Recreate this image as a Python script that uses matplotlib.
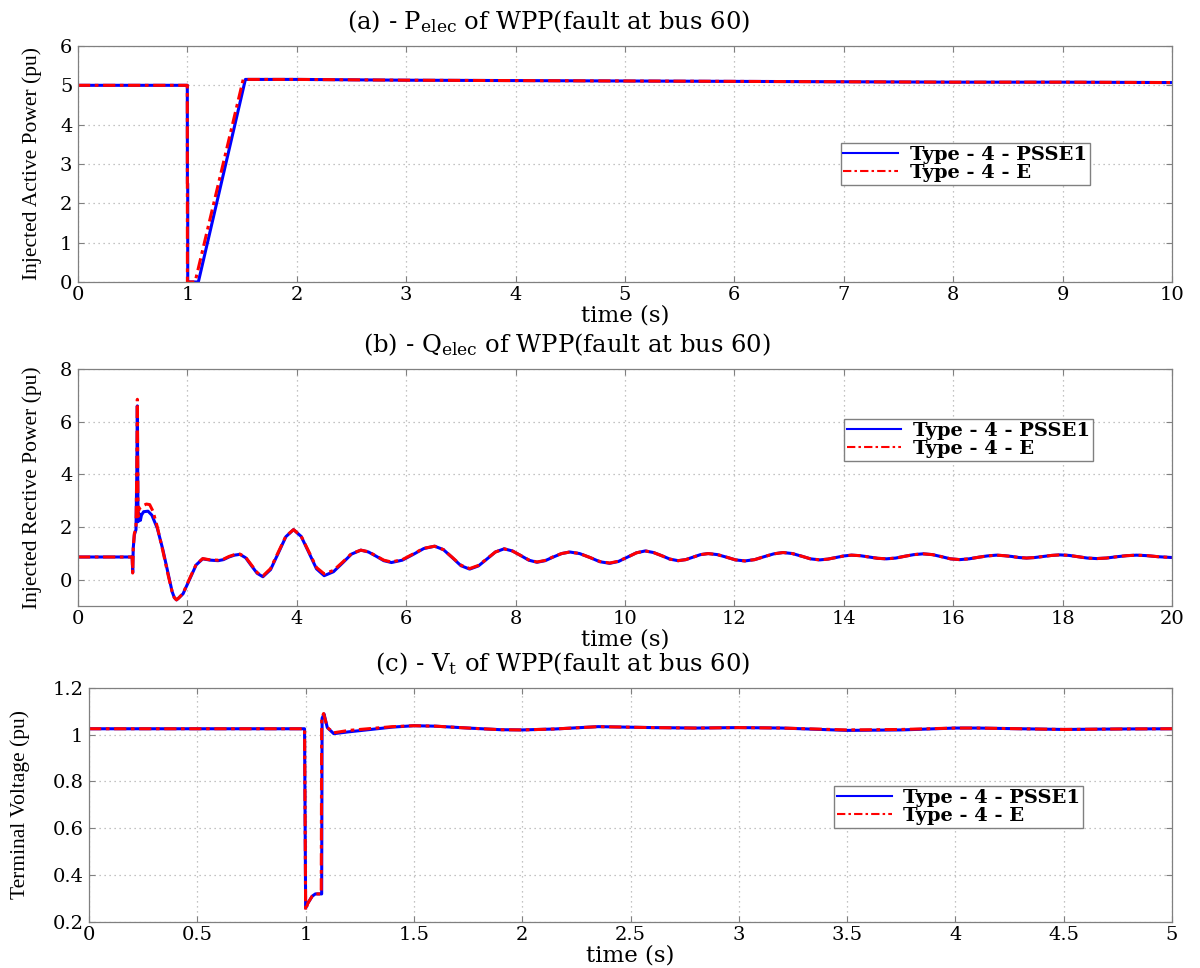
import matplotlib
matplotlib.use("Agg")
import matplotlib.pyplot as plt
from matplotlib.ticker import FuncFormatter

# ---------------- data ----------------
# (a) injected active power
ta_blue = [0, 0.999, 1.0, 1.003, 1.003, 1.10, 1.53, 2.0, 3.0, 4.0, 5.0, 6.0, 7.0, 8.0, 9.0, 10.0]
pa_blue = [5.0, 5.0, 2.5, 2.5, 0.0, 0.0, 5.15, 5.15, 5.13, 5.12, 5.11, 5.10, 5.09, 5.08, 5.08, 5.07]
ta_red = [0, 0.999, 1.0, 1.07, 1.51, 2.0, 3.0, 4.0, 5.0, 6.0, 7.0, 8.0, 9.0, 10.0]
pa_red = [5.0, 5.0, 0.0, 0.0, 5.15, 5.15, 5.13, 5.12, 5.11, 5.10, 5.09, 5.08, 5.08, 5.07]

# (b) injected reactive power: fault transient (differs between models) ...
tb_head_blue = [0, 0.99, 1.0, 1.01, 1.03, 1.06, 1.075, 1.085, 1.095, 1.10, 1.12, 1.14, 1.16, 1.2,
                1.28, 1.35, 1.45, 1.55, 1.65, 1.72, 1.76]
qb_head_blue = [0.86, 0.86, 0.27, 1.2, 1.7, 1.9, 4.0, 6.6, 3.0, 2.2, 2.5, 2.25, 2.45, 2.58,
                2.6, 2.45, 1.95, 1.15, 0.2, -0.45, -0.68]
tb_head_red = [0, 0.99, 1.0, 1.01, 1.03, 1.06, 1.075, 1.085, 1.095, 1.10, 1.12, 1.16, 1.2, 1.25,
               1.31, 1.37, 1.45, 1.55, 1.65, 1.72, 1.76]
qb_head_red = [0.86, 0.86, 0.25, 1.2, 1.75, 1.95, 4.3, 6.85, 3.2, 2.4, 2.7, 2.75, 2.82, 2.87,
               2.85, 2.6, 2.0, 1.1, 0.15, -0.45, -0.68]
# ... followed by the electromechanical oscillation
tb_tail = [1.8, 1.84, 1.92, 2.04, 2.16, 2.28, 2.42, 2.56, 2.66, 2.76, 2.86, 2.96,
           3.065, 3.17, 3.275, 3.38, 3.52, 3.66, 3.80, 3.94, 4.08, 4.22, 4.36, 4.5,
           4.67, 4.84, 5.0, 5.17, 5.31, 5.45, 5.59, 5.73, 5.93, 6.13, 6.32, 6.52,
           6.68, 6.84, 7.0, 7.16, 7.32, 7.48, 7.63, 7.79, 7.94, 8.09, 8.24, 8.39,
           8.54, 8.69, 8.84, 8.99, 9.17, 9.36, 9.54, 9.72, 9.88, 10.05, 10.21, 10.37,
           10.52, 10.67, 10.82, 10.97, 11.11, 11.25, 11.38, 11.52, 11.69, 11.86, 12.02, 12.19,
           12.37, 12.54, 12.72, 12.89, 13.06, 13.23, 13.39, 13.56, 13.71, 13.85, 14.0, 14.14,
           14.3, 14.46, 14.62, 14.78, 14.95, 15.12, 15.28, 15.45, 15.62, 15.79, 15.95, 16.12,
           16.29, 16.46, 16.62, 16.79, 16.93, 17.07, 17.2, 17.34, 17.49, 17.65, 17.8, 17.95,
           18.12, 18.29, 18.45, 18.62, 18.8, 18.99, 19.17, 19.35, 19.55, 19.75, 20.0]
qb_tail_blue = [-0.77, -0.7, -0.54, 0.01, 0.56, 0.79, 0.74, 0.72, 0.76, 0.86, 0.93, 0.96,
                0.83, 0.53, 0.24, 0.11, 0.38, 1.0, 1.63, 1.9, 1.64, 1.03, 0.41, 0.15,
                0.30, 0.64, 0.97, 1.12, 1.05, 0.89, 0.72, 0.65, 0.74, 0.96, 1.18, 1.27,
                1.14, 0.84, 0.53, 0.40, 0.52, 0.79, 1.05, 1.17, 1.09, 0.92, 0.74, 0.66,
                0.72, 0.86, 0.99, 1.05, 0.99, 0.84, 0.68, 0.62, 0.69, 0.86, 1.02, 1.09,
                1.03, 0.91, 0.78, 0.72, 0.76, 0.86, 0.95, 0.99, 0.95, 0.85, 0.75, 0.71,
                0.76, 0.87, 0.98, 1.03, 0.99, 0.89, 0.79, 0.75, 0.78, 0.84, 0.90, 0.93,
                0.91, 0.86, 0.81, 0.79, 0.82, 0.89, 0.95, 0.98, 0.95, 0.87, 0.79, 0.76,
                0.79, 0.85, 0.90, 0.93, 0.91, 0.88, 0.84, 0.82, 0.84, 0.88, 0.92, 0.94,
                0.92, 0.87, 0.82, 0.80, 0.82, 0.87, 0.91, 0.93, 0.91, 0.87, 0.84]
qb_tail_red = [-0.77, -0.7, -0.52, 0.04, 0.58, 0.80, 0.75, 0.74, 0.78, 0.88, 0.95, 0.97,
               0.85, 0.56, 0.27, 0.14, 0.42, 1.04, 1.65, 1.9, 1.65, 1.06, 0.46, 0.22,
               0.35, 0.67, 0.99, 1.12, 1.06, 0.90, 0.74, 0.67, 0.76, 0.98, 1.19, 1.27,
               1.14, 0.85, 0.55, 0.42, 0.54, 0.80, 1.05, 1.17, 1.09, 0.92, 0.75, 0.67,
               0.73, 0.87, 0.99, 1.05, 0.99, 0.84, 0.69, 0.63, 0.70, 0.86, 1.02, 1.09,
               1.03, 0.91, 0.78, 0.72, 0.76, 0.86, 0.95, 0.99, 0.95, 0.85, 0.75, 0.71,
               0.76, 0.87, 0.98, 1.03, 0.99, 0.89, 0.79, 0.75, 0.78, 0.84, 0.90, 0.93,
               0.91, 0.86, 0.81, 0.79, 0.82, 0.89, 0.95, 0.98, 0.95, 0.87, 0.79, 0.76,
               0.79, 0.85, 0.90, 0.93, 0.91, 0.88, 0.84, 0.82, 0.84, 0.88, 0.92, 0.94,
               0.92, 0.87, 0.82, 0.80, 0.82, 0.87, 0.91, 0.93, 0.91, 0.87, 0.84]

# (c) terminal voltage
tc_blue = [0, 0.995, 1.0, 1.01, 1.03, 1.045, 1.074, 1.076, 1.085, 1.1, 1.13, 1.2, 1.3, 1.4,
           1.5, 1.6, 1.75, 1.9, 2.0, 2.15, 2.35, 2.6, 2.8, 3.0, 3.2, 3.5, 3.75, 4.0, 4.1,
           4.3, 4.5, 4.75, 5.0]
vc_blue = [1.025, 1.025, 0.26, 0.28, 0.31, 0.32, 0.32, 1.07, 1.088, 1.03, 1.004, 1.012,
           1.022, 1.032, 1.038, 1.036, 1.028, 1.021, 1.02, 1.024, 1.034, 1.03, 1.028, 1.03,
           1.028, 1.018, 1.02, 1.028, 1.028, 1.025, 1.022, 1.024, 1.025]
tc_red = [0, 0.995, 1.0, 1.01, 1.03, 1.045, 1.072, 1.074, 1.083, 1.1, 1.13, 1.2, 1.3, 1.4,
          1.5, 1.6, 1.75, 1.9, 2.0, 2.15, 2.35, 2.6, 2.8, 3.0, 3.2, 3.5, 3.75, 4.0, 4.1,
          4.3, 4.5, 4.75, 5.0]
vc_red = [1.025, 1.025, 0.25, 0.28, 0.31, 0.32, 0.32, 1.07, 1.09, 1.03, 1.008, 1.018,
          1.026, 1.034, 1.038, 1.036, 1.028, 1.021, 1.02, 1.024, 1.034, 1.03, 1.028, 1.03,
          1.028, 1.02, 1.022, 1.028, 1.028, 1.025, 1.022, 1.024, 1.025]

legend_labels = ["Type - 4 - PSSE1", "Type - 4 - E"]

titles = [r"(a) - P$_{\mathrm{elec}}$ of WPP(fault at bus 60)",
          r"(b) - Q$_{\mathrm{elec}}$ of WPP(fault at bus 60)",
          r"(c) - V$_{\mathrm{t}}$ of WPP(fault at bus 60)"]
ylabels = ["Injected Active Power (pu)", "Injected Rective Power (pu)", "Terminal Voltage (pu)"]
xlabel = "time (s)"

xlims = [(0, 10), (0, 20), (0, 5)]
ylims = [(0, 6), (-1, 8), (0.2, 1.2)]
xticks = [list(range(0, 11)), list(range(0, 21, 2)), [0, 0.5, 1, 1.5, 2, 2.5, 3, 3.5, 4, 4.5, 5]]
yticks = [list(range(0, 7)), [0, 2, 4, 6, 8], [0.2, 0.4, 0.6, 0.8, 1.0, 1.2]]

# ---------------- plotting ----------------
plt.rcParams['mathtext.fontset'] = 'dejavuserif'
SERIF = ['DejaVu Serif']

fig = plt.figure(figsize=(12, 9.68), dpi=100)
positions = [
    [0.065, 0.7087, 0.9117, 0.2438],
    [0.065, 0.374, 0.9117, 0.2448],
    [0.0742, 0.0475, 0.9025, 0.2420],
]
legend_anchor = [(0.697, 0.59), (0.70, 0.79), (0.688, 0.58)]
title_x = [0.43, 0.447, 0.437]
ylabel_pad = [13, 13, 16]

data = [(ta_blue, pa_blue, ta_red, pa_red),
        (tb_head_blue + tb_tail, qb_head_blue + qb_tail_blue,
         tb_head_red + tb_tail, qb_head_red + qb_tail_red),
        (tc_blue, vc_blue, tc_red, vc_red)]

fmt = FuncFormatter(lambda v, p: "%g" % round(v, 3))

for i in range(3):
    ax = fig.add_axes(positions[i])
    tbx, vbx, trx, vrx = data[i]
    ax.plot(tbx, vbx, color='#0000ff', lw=2.2, linestyle='-', label=legend_labels[0])
    ax.plot(trx, vrx, color='#ff0000', lw=2.2, dashes=(4, 1.5, 1.2, 1.5), label=legend_labels[1])
    ax.set_xlim(*xlims[i])
    ax.set_ylim(*ylims[i])
    ax.set_xticks(xticks[i])
    ax.set_yticks(yticks[i])
    ax.xaxis.set_major_formatter(fmt)
    ax.yaxis.set_major_formatter(fmt)
    ax.grid(True, linestyle=(0, (1, 3)), color='#b0b0b0', lw=0.9)
    ax.tick_params(direction='in', length=4, width=0.8, color='#808080',
                   labelsize=14, top=True, right=True)
    ax.tick_params(axis='x', pad=3)
    ax.tick_params(axis='y', pad=4)
    for lab in ax.get_xticklabels() + ax.get_yticklabels():
        lab.set_family(SERIF)
    for s in ax.spines.values():
        s.set_color('#808080')
        s.set_linewidth(0.9)
    ax.set_title(titles[i], family=SERIF, fontsize=17.5, pad=12, x=title_x[i])
    ax.set_xlabel(xlabel, family=SERIF, fontsize=16.5, labelpad=0)
    ax.set_ylabel(ylabels[i], family=['Liberation Serif'], fontsize=15.5, labelpad=ylabel_pad[i])
    leg = ax.legend(loc='upper left', bbox_to_anchor=legend_anchor[i],
                    prop={'family': SERIF, 'weight': 'bold', 'size': 14},
                    frameon=True, fancybox=False, framealpha=1, edgecolor='#808080',
                    handlelength=2.8, handletextpad=0.6, labelspacing=0.0,
                    borderpad=0.15, borderaxespad=0)
    leg.get_frame().set_linewidth(1.0)
    for ln in leg.get_lines():
        ln.set_linewidth(1.5)

fig.savefig("out.png", dpi=100)
